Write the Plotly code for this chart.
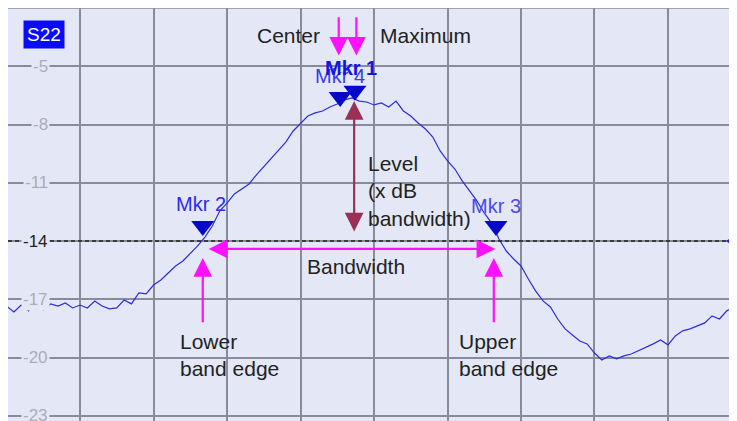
import plotly.graph_objects as go

# Sweep trace (S22, dB) sampled every 0.1 grid division
trace_db = [
    -17.34, -17.65, -17.29, -17.59, -17.08, -17.54, -17.23, -17.34, -17.18, -17.44,
    -17.29, -17.44, -17.08, -17.34, -17.49, -17.44, -17.03, -17.23, -16.67, -16.72,
    -16.26, -16.00, -15.64, -15.28, -15.02, -14.66, -14.25, -13.79, -13.22, -12.45,
    -12.04, -11.57, -11.32, -11.06, -10.59, -10.18, -9.77, -9.36, -8.90, -8.33,
    -7.92, -7.56, -7.40, -7.30, -7.10, -6.94, -6.73, -6.63, -6.79, -6.84,
    -6.99, -6.89, -7.10, -6.79, -7.30, -7.56, -7.92, -8.23, -8.64, -9.36,
    -9.87, -10.29, -10.90, -11.42, -11.93, -12.55, -13.07, -13.89, -14.51, -14.92,
    -15.28, -15.95, -16.57, -17.08, -17.39, -18.01, -18.52, -18.83, -19.14, -19.29,
    -19.76, -20.12, -19.91, -20.06, -19.91, -19.81, -19.65, -19.45, -19.29, -19.09,
    -19.34, -18.88, -18.62, -18.52, -18.37, -18.21, -17.85, -18.01, -17.59, -17.39,
    -17.29,
]
sweep_step = 0.1
sweep_x = [i * sweep_step for i in range(len(trace_db))]

# Markers: name, position (divisions), level (dB)
marker_names = ["Mkr 1", "Mkr 4", "Mkr 2", "Mkr 3"]
marker_x = [4.74, 4.54, 2.67, 6.66]
marker_level = [-6.68, -6.94, -14.0, -14.0]

ref_level = -14.0
y_ticks = [-5, -8, -11, -14, -17, -20, -23]

FONT = "Liberation Sans, Arial, sans-serif"
BG = "#e4e8f6"
GRID = "#888c98"
PINK = "#ff10ff"
MAROON = "#9c2f55"
TEXT = "#222222"

fig = go.Figure()

fig.add_trace(go.Scatter(
    x=sweep_x, y=trace_db, mode="lines",
    line=dict(color="#2c2ce0", width=1.2),
    hoverinfo="skip", showlegend=False,
))

# marker triangles sit just above their level
offsets = [0.42, 0.36, 0.78, 0.78]
fig.add_trace(go.Scatter(
    x=marker_x,
    y=[lv + off for lv, off in zip(marker_level, offsets)],
    mode="markers",
    marker=dict(symbol="triangle-down", size=20, color="#0808c8", line=dict(width=0)),
    hoverinfo="skip", showlegend=False,
))

# reference level handle at right edge
fig.add_trace(go.Scatter(
    x=[9.88], y=[ref_level], mode="markers",
    marker=dict(symbol="triangle-left", size=13, color="#1e1eff"),
    hoverinfo="skip", showlegend=False,
))

fig.add_shape(type="line", xref="paper", x0=0, x1=1, y0=ref_level, y1=ref_level,
              line=dict(color="#222222", width=1.5, dash="4px,3px"))
# frame top edge
fig.add_shape(type="line", xref="paper", yref="paper", x0=0, x1=1, y0=1, y1=1,
              line=dict(color=GRID, width=1.5))

ann = []

# y tick labels inside the grid
for t in y_ticks:
    ann.append(dict(
        x=0.057, xref="paper", y=t, yref="y", text=str(t), showarrow=False,
        xanchor="right", yanchor="middle", bgcolor=BG, borderpad=1,
        font=dict(family=FONT, size=17,
                  color=TEXT if t == ref_level else "#a9adb9"),
    ))

ann.append(dict(
    x=0.02, xref="paper", y=-3.34, yref="y", text="S22", showarrow=False,
    xanchor="left", yanchor="middle", bgcolor="#0a0aff", borderpad=3,
    font=dict(family=FONT, size=19, color="white"),
))

# marker labels
mk = 20
ann.append(dict(x=marker_x[1], y=-5.5, text="Mkr 4", showarrow=False,
                font=dict(family=FONT, size=mk, color="#3a3af0")))
ann.append(dict(x=marker_x[0] - 0.05, y=-5.1, text="<b>Mkr 1</b>", showarrow=False,
                font=dict(family=FONT, size=mk, color="#1515e0")))
ann.append(dict(x=marker_x[2] - 0.02, y=-12.09, text="Mkr 2", showarrow=False,
                font=dict(family=FONT, size=mk, color="#2b2be8")))
ann.append(dict(x=marker_x[3], y=-12.19, text="Mkr 3", showarrow=False,
                font=dict(family=FONT, size=mk, color="#4b4bef")))

# explanatory text
txt = dict(family=FONT, size=21, color=TEXT)
ann.append(dict(x=3.83, y=-3.44, text="Center", showarrow=False, font=txt))
ann.append(dict(x=5.05, y=-3.44, text="Maximum", showarrow=False, xanchor="left", font=txt))
ann.append(dict(x=4.89, y=-9.3, text="Level<br>(x dB<br>bandwidth)", showarrow=False,
                xanchor="left", yanchor="top", align="left", font=txt))
ann.append(dict(x=4.76, y=-15.33, text="Bandwidth", showarrow=False, font=txt))
ann.append(dict(x=2.33, y=-18.45, text="Lower<br>band edge", showarrow=False,
                xanchor="left", yanchor="top", align="left", font=txt))
ann.append(dict(x=6.13, y=-18.45, text="Upper<br>band edge", showarrow=False,
                xanchor="left", yanchor="top", align="left", font=txt))


def arrow(x0, y0, x1, y1, color, side="end"):
    return dict(x=x1, y=y1, ax=x0, ay=y0, xref="x", yref="y", axref="x", ayref="y",
                text="", showarrow=True, arrowhead=2, arrowsize=1.7, arrowwidth=2.2,
                arrowcolor=color, arrowside=side, standoff=0, startstandoff=0)


# pink pointers to Center / Maximum
ann.append(arrow(marker_x[1] - 0.02, -2.4, marker_x[1] - 0.02, -4.45, PINK))
ann.append(arrow(marker_x[0] + 0.02, -2.4, marker_x[0] + 0.02, -4.45, PINK))
# bandwidth span
ann.append(arrow(marker_x[2] + 0.06, -14.4, marker_x[3] - 0.01, -14.4, PINK, "end+start"))
# band edge pointers
ann.append(arrow(marker_x[2], -18.26, marker_x[2], -14.87, PINK))
ann.append(arrow(marker_x[3] - 0.03, -18.26, marker_x[3] - 0.03, -14.87, PINK))
# level span
ann.append(arrow(marker_x[0] - 0.01, -13.58, marker_x[0] - 0.01, -6.79, MAROON, "end+start"))

# page body adds an 8px offset, so the figure fills the rest of the window
fig.update_layout(
    width=729, height=413,
    margin=dict(l=0, r=0, t=0, b=0),
    paper_bgcolor="white", plot_bgcolor=BG,
    showlegend=False,
    annotations=ann,
    xaxis=dict(range=[0.02, 9.939], dtick=1, tick0=0, showgrid=True,
               gridcolor=GRID, gridwidth=1.5, showticklabels=False,
               zeroline=False, showline=False, ticks=""),
    yaxis=dict(range=[-23.26, -2.0], dtick=3, tick0=-2, showgrid=True,
               gridcolor=GRID, gridwidth=1.5, showticklabels=False,
               zeroline=False, showline=False, ticks=""),
)

fig.write_html("out.html")
